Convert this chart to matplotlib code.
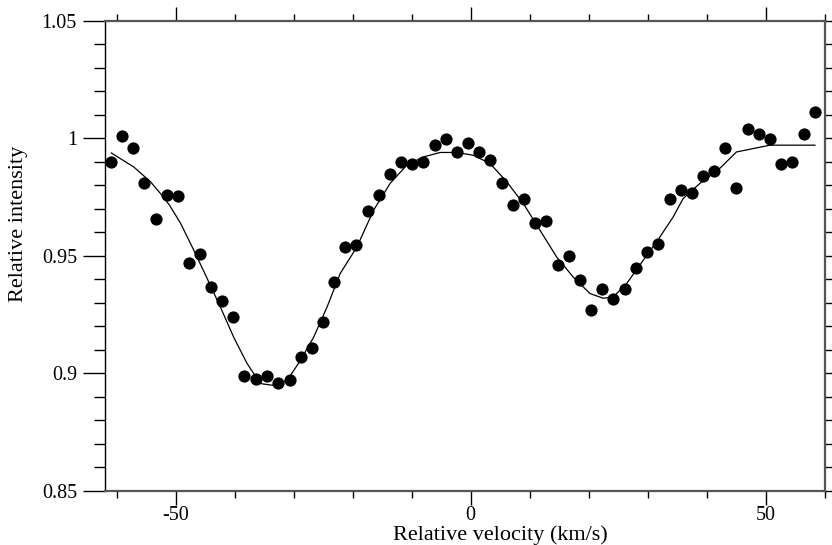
import matplotlib
matplotlib.use("Agg")
import matplotlib.pyplot as plt
from matplotlib.ticker import MultipleLocator, FuncFormatter

plt.rcParams['font.family'] = ['Liberation Serif', 'DejaVu Serif']
plt.rcParams['axes.unicode_minus'] = False

# Observed profile
velocity = [-61.00, -59.14, -57.23, -55.36, -53.38, -51.52, -49.66, -47.75,
            -45.89, -43.96, -42.05, -40.19, -38.33, -36.41, -34.48, -32.57,
            -30.66, -28.80, -26.94, -25.01, -23.10, -21.24, -19.37, -17.46,
            -15.53, -13.67, -11.76, -9.90, -7.99, -6.06, -4.20, -2.28,
            -0.42, 1.49, 3.35, 5.28, 7.14, 9.05, 10.91, 12.83,
            14.75, 16.62, 18.53, 20.39, 22.30, 24.16, 26.09, 28.00,
            29.92, 31.78, 33.71, 35.57, 37.48, 39.34, 41.25, 43.18,
            45.04, 46.95, 48.82, 50.73, 52.59, 54.52, 56.43, 58.34]
intensity = [0.9900, 1.0011, 0.9959, 0.9809, 0.9659, 0.9761, 0.9754, 0.9468,
             0.9510, 0.9369, 0.9308, 0.9240, 0.8988, 0.8978, 0.8988, 0.8960,
             0.8971, 0.9069, 0.9109, 0.9218, 0.9387, 0.9539, 0.9548, 0.9690,
             0.9759, 0.9849, 0.9900, 0.9890, 0.9900, 0.9970, 0.9999, 0.9940,
             0.9981, 0.9940, 0.9910, 0.9809, 0.9718, 0.9741, 0.9640, 0.9650,
             0.9460, 0.9499, 0.9399, 0.9268, 0.9358, 0.9318, 0.9358, 0.9448,
             0.9518, 0.9549, 0.9741, 0.9779, 0.9769, 0.9839, 0.9860, 0.9959,
             0.9789, 1.0039, 1.0019, 0.9999, 0.9890, 0.9900, 1.0019, 1.0110]

# Model fit
model_velocity = [-60.88, -57.06, -54.23, -52.54, -51.00, -49.15, -46.90, -44.64,
                  -42.39, -40.14, -37.87, -35.62, -33.37, -31.10, -28.85, -26.60,
                  -24.33, -22.08, -19.26, -16.45, -13.62, -10.80, -7.99, -5.16,
                  -2.34, 0.47, 3.30, 6.13, 8.93, 11.76, 14.59, 17.39,
                  20.22, 22.47, 24.16, 26.43, 29.24, 32.06, 34.31, 36.01,
                  38.83, 42.22, 45.04, 50.73, 58.34]
model_intensity = [0.9938, 0.9878, 0.9815, 0.9765, 0.9715, 0.9639, 0.9524, 0.9404,
                   0.9282, 0.9154, 0.9042, 0.8957, 0.8949, 0.8970, 0.9055, 0.9154,
                   0.9282, 0.9426, 0.9538, 0.9694, 0.9809, 0.9886, 0.9921, 0.9940,
                   0.9940, 0.9928, 0.9893, 0.9815, 0.9723, 0.9609, 0.9495, 0.9410,
                   0.9340, 0.9320, 0.9325, 0.9382, 0.9481, 0.9580, 0.9665, 0.9744,
                   0.9808, 0.9872, 0.9942, 0.9971, 0.9971]

fig = plt.figure(figsize=(8.32, 5.45), dpi=100)
ax = fig.add_axes([104.7 / 832, 54 / 545, 720 / 832, 470.2 / 545])

ax.plot(model_velocity, model_intensity, color='black', lw=0.9, zorder=2)
ax.plot(velocity, intensity, 'o', color='black', ms=8.8, mew=0, zorder=3)

ax.set_xlim(-62, 60)
ax.set_ylim(0.85, 1.05)

ax.xaxis.set_major_locator(MultipleLocator(50))
ax.xaxis.set_minor_locator(MultipleLocator(10))
ax.yaxis.set_major_locator(MultipleLocator(0.05))
ax.yaxis.set_minor_locator(MultipleLocator(0.01))
ax.xaxis.set_major_formatter(FuncFormatter(lambda v, p: '%g' % v))
ax.yaxis.set_major_formatter(FuncFormatter(lambda v, p: '%g' % round(v, 2)))

ax.tick_params(axis='both', which='both', direction='out', top=True, right=True,
               labelsize=14.5, color='black', width=1.0)
ax.tick_params(axis='x', which='major', length=10, pad=1)
ax.tick_params(axis='x', which='minor', length=5)
ax.tick_params(axis='y', which='major', length=16, pad=4)
ax.tick_params(axis='y', which='minor', length=8)

for side in ['bottom', 'top', 'right']:
    ax.spines[side].set_linewidth(1.6)
    ax.spines[side].set_color('#555555')
ax.spines['left'].set_linewidth(1.0)
ax.spines['left'].set_color('black')

ax.set_xlabel('Relative velocity (km/s)', fontsize=16)
ax.xaxis.label.set_va('baseline')
ax.xaxis.label.set_ha('center')
ax.xaxis.set_label_coords((500 - 104.7) / 720, (491 - 540) / 470.2)

ax.set_ylabel('Relative intensity', fontsize=16)
ax.yaxis.label.set_va('center')
ax.yaxis.label.set_ha('center')
ax.yaxis.set_label_coords((19 - 104.7) / 720, (491 - 224) / 470.2)

fig.savefig('out.png', dpi=100)
